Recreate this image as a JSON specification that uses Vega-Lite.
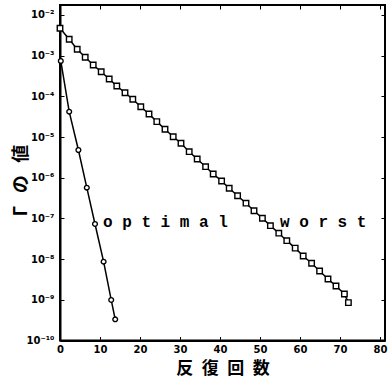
{
  "$schema": "https://vega.github.io/schema/vega-lite/v6.json",
  "width": 325,
  "height": 335.5,
  "autosize": "none",
  "padding": {"left": 60, "top": 5, "right": 5, "bottom": 41.5},
  "background": "white",
  "config": {
    "view": {"stroke": "black", "strokeWidth": 2},
    "axis": {
      "grid": false,
      "domainColor": "black",
      "domainWidth": 2,
      "tickColor": "black",
      "tickWidth": 1,
      "tickSize": -4,
      "labelFont": "DejaVu Sans",
      "labelFontWeight": "bold",
      "labelFontSize": 10,
      "labelColor": "black",
      "titleFont": "Noto Sans CJK JP",
      "titleFontWeight": "bold",
      "titleColor": "black",
      "titleFontSize": 17
    }
  },
  "datasets": {
    "series": [
      {"series": "worst", "iter": 0, "gamma": 4.71e-3},
      {"series": "worst", "iter": 2.3, "gamma": 2.53e-3},
      {"series": "worst", "iter": 4.3, "gamma": 1.44e-3},
      {"series": "worst", "iter": 6.3, "gamma": 9.12e-4},
      {"series": "worst", "iter": 8.3, "gamma": 5.90e-4},
      {"series": "worst", "iter": 10.3, "gamma": 4.04e-4},
      {"series": "worst", "iter": 12.3, "gamma": 2.67e-4},
      {"series": "worst", "iter": 14.2, "gamma": 1.80e-4},
      {"series": "worst", "iter": 16.25, "gamma": 1.23e-4},
      {"series": "worst", "iter": 18.2, "gamma": 8.47e-5},
      {"series": "worst", "iter": 20.2, "gamma": 5.57e-5},
      {"series": "worst", "iter": 22.25, "gamma": 3.69e-5},
      {"series": "worst", "iter": 24.2, "gamma": 2.39e-5},
      {"series": "worst", "iter": 26.25, "gamma": 1.55e-5},
      {"series": "worst", "iter": 28.3, "gamma": 1.02e-5},
      {"series": "worst", "iter": 30.25, "gamma": 7.03e-6},
      {"series": "worst", "iter": 32.3, "gamma": 4.37e-6},
      {"series": "worst", "iter": 34.3, "gamma": 2.89e-6},
      {"series": "worst", "iter": 36.4, "gamma": 1.87e-6},
      {"series": "worst", "iter": 38.3, "gamma": 1.24e-6},
      {"series": "worst", "iter": 40.4, "gamma": 8.32e-7},
      {"series": "worst", "iter": 42.3, "gamma": 5.51e-7},
      {"series": "worst", "iter": 44.4, "gamma": 3.62e-7},
      {"series": "worst", "iter": 46.5, "gamma": 2.37e-7},
      {"series": "worst", "iter": 48.5, "gamma": 1.55e-7},
      {"series": "worst", "iter": 50.6, "gamma": 1.01e-7},
      {"series": "worst", "iter": 52.6, "gamma": 6.64e-8},
      {"series": "worst", "iter": 54.7, "gamma": 4.34e-8},
      {"series": "worst", "iter": 56.7, "gamma": 2.84e-8},
      {"series": "worst", "iter": 58.8, "gamma": 1.86e-8},
      {"series": "worst", "iter": 60.8, "gamma": 1.19e-8},
      {"series": "worst", "iter": 62.9, "gamma": 7.91e-9},
      {"series": "worst", "iter": 64.9, "gamma": 5.12e-9},
      {"series": "worst", "iter": 67, "gamma": 3.25e-9},
      {"series": "worst", "iter": 69, "gamma": 2.19e-9},
      {"series": "worst", "iter": 71.1, "gamma": 1.39e-9},
      {"series": "worst", "iter": 72.1, "gamma": 8.51e-10},
      {"series": "optimal", "iter": 0.2, "gamma": 7.41e-4},
      {"series": "optimal", "iter": 2.3, "gamma": 4.20e-5},
      {"series": "optimal", "iter": 4.6, "gamma": 4.81e-6},
      {"series": "optimal", "iter": 6.7, "gamma": 5.70e-7},
      {"series": "optimal", "iter": 8.75, "gamma": 7.31e-8},
      {"series": "optimal", "iter": 10.9, "gamma": 8.65e-9},
      {"series": "optimal", "iter": 12.8, "gamma": 9.91e-10},
      {"series": "optimal", "iter": 13.8, "gamma": 3.32e-10}
    ],
    "labels": [
      {"label": "o p t i m a l", "iter": 10.75, "gamma": 8.3e-8},
      {"label": "w o r s t", "iter": 55, "gamma": 8.3e-8}
    ]
  },
  "layer": [
    {
      "encoding": {
        "x": {"field": "iter", "type": "quantitative",
              "scale": {"domain": [0, 81.25], "nice": false, "zero": false},
              "axis": {"values": [0, 10, 20, 30, 40, 50, 60, 70, 80], "title": "反\u2002復\u2002回\u2002数", "labelPadding": 8, "titlePadding": 6, "labelFlush": false}},
        "y": {"field": "gamma", "type": "quantitative",
              "scale": {"type": "log", "domain": [1e-10, 0.0176], "nice": false},
              "axis": {"values": [1e-10, 1e-9, 1e-8, 1e-7, 1e-6, 1e-5, 1e-4, 1e-3, 1e-2],
                       "labelExpr": "'10⁻' + ['⁰','¹','²','³','⁴','⁵','⁶','⁷','⁸','⁹','¹⁰'][round(-log(datum.value)/LN10)]",
                       "title": "Γ\u2002\u2009の\u2002\u2009値", "titleFontSize": 18, "titleX": -30, "titleY": 175, "titleBaseline": "bottom", "labelPadding": 10}}
      },
      "layer": [
        {"data": {"name": "series"}, "mark": {"type": "line", "color": "black", "strokeWidth": 1.5}, "encoding": {"detail": {"field": "series"}}},
        {"data": {"name": "series"}, "mark": {"type": "point", "filled": true, "fill": "white", "stroke": "black", "strokeWidth": 1.4, "opacity": 1},
         "encoding": {
           "shape": {"field": "series", "scale": {"domain": ["optimal", "worst"], "range": ["circle", "square"]}, "legend": null},
           "size": {"field": "series", "scale": {"domain": ["optimal", "worst"], "range": [22, 30]}, "legend": null}
         }},
        {"data": {"name": "labels"}, "mark": {"type": "text", "font": "Liberation Mono", "fontWeight": "bold", "fontSize": 16, "align": "left", "baseline": "middle", "color": "black"},
         "encoding": {"text": {"field": "label"}}}
      ]
    },
    {
      "data": {"name": "labels"},
      "mark": {"type": "point", "opacity": 0},
      "encoding": {
        "x": {"field": "iter", "type": "quantitative",
              "scale": {"domain": [0, 81.25], "nice": false, "zero": false},
              "axis": {"orient": "top", "values": [10, 20, 30, 40, 50, 60, 70, 80], "labels": false, "domain": false, "title": null}},
        "y": {"field": "gamma", "type": "quantitative",
              "scale": {"type": "log", "domain": [1e-10, 0.0176], "nice": false},
              "axis": {"orient": "right", "values": [1e-9, 1e-8, 1e-7, 1e-6, 1e-5, 1e-4, 1e-3, 1e-2], "labels": false, "domain": false, "title": null}}
      }
    }
  ],
  "resolve": {"scale": {"x": "independent", "y": "independent"}}
}
